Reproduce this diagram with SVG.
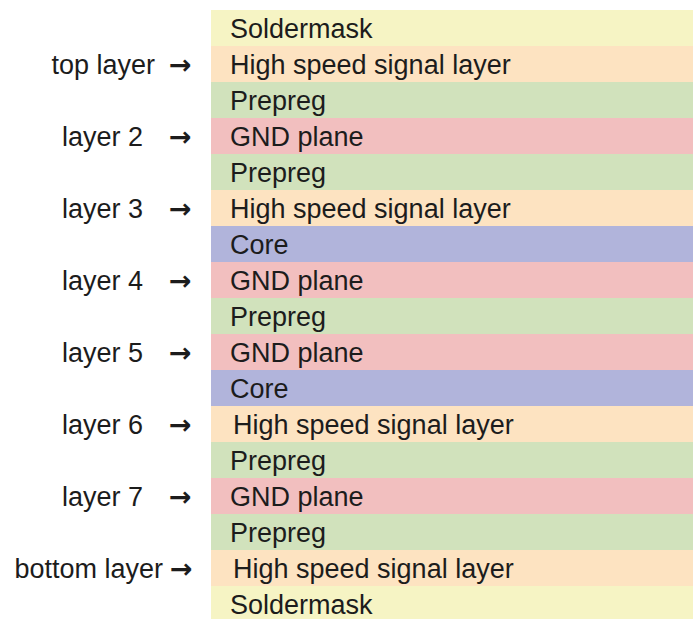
<svg xmlns="http://www.w3.org/2000/svg" width="693" height="619" viewBox="0 0 693 619">
<style>
text{font-family:"Liberation Sans",Arial,sans-serif;font-size:27px;fill:#1c1c1c}
.sm{fill:#f6f4c4}.hs{fill:#fde3c1}.pp{fill:#d1e2bc}.gnd{fill:#f2bfbf}.core{fill:#b1b4db}
.lbl{text-anchor:end}
.arr{font-family:"DejaVu Sans",sans-serif;font-size:27px;font-weight:bold}
</style>
<rect width="693" height="619" fill="#ffffff"/>
<g id="stack">
<g id="l0"><rect class="sm" x="211" y="10" width="482" height="36"/><text x="230" y="37.5">Soldermask</text></g>
<g id="l1"><rect class="hs" x="211" y="46" width="482" height="36"/><text x="230" y="73.5">High speed signal layer</text></g>
<g id="l2"><rect class="pp" x="211" y="82" width="482" height="36"/><text x="230" y="109.5">Prepreg</text></g>
<g id="l3"><rect class="gnd" x="211" y="118" width="482" height="36"/><text x="230" y="145.5">GND plane</text></g>
<g id="l4"><rect class="pp" x="211" y="154" width="482" height="36"/><text x="230" y="181.5">Prepreg</text></g>
<g id="l5"><rect class="hs" x="211" y="190" width="482" height="36"/><text x="230" y="217.5">High speed signal layer</text></g>
<g id="l6"><rect class="core" x="211" y="226" width="482" height="36"/><text x="230" y="253.5">Core</text></g>
<g id="l7"><rect class="gnd" x="211" y="262" width="482" height="36"/><text x="230" y="289.5">GND plane</text></g>
<g id="l8"><rect class="pp" x="211" y="298" width="482" height="36"/><text x="230" y="325.5">Prepreg</text></g>
<g id="l9"><rect class="gnd" x="211" y="334" width="482" height="36"/><text x="230" y="361.5">GND plane</text></g>
<g id="l10"><rect class="core" x="211" y="370" width="482" height="36"/><text x="230" y="397.5">Core</text></g>
<g id="l11"><rect class="hs" x="211" y="406" width="482" height="36"/><text x="233" y="433.5">High speed signal layer</text></g>
<g id="l12"><rect class="pp" x="211" y="442" width="482" height="36"/><text x="230" y="469.5">Prepreg</text></g>
<g id="l13"><rect class="gnd" x="211" y="478" width="482" height="36"/><text x="230" y="505.5">GND plane</text></g>
<g id="l14"><rect class="pp" x="211" y="514" width="482" height="36"/><text x="230" y="541.5">Prepreg</text></g>
<g id="l15"><rect class="hs" x="211" y="550" width="482" height="36"/><text x="233" y="577.5">High speed signal layer</text></g>
<g id="l16"><rect class="sm" x="211" y="586" width="482" height="33"/><text x="230" y="613.5">Soldermask</text></g>
</g>
<g id="labels">
<g id="lab-top"><text class="lbl" x="155" y="73.5">top layer</text><text class="arr" x="169" y="73.5">→</text></g>
<g id="lab-2"><text class="lbl" x="143" y="145.5">layer 2</text><text class="arr" x="169" y="145.5">→</text></g>
<g id="lab-3"><text class="lbl" x="143" y="217.5">layer 3</text><text class="arr" x="169" y="217.5">→</text></g>
<g id="lab-4"><text class="lbl" x="143" y="289.5">layer 4</text><text class="arr" x="169" y="289.5">→</text></g>
<g id="lab-5"><text class="lbl" x="143" y="361.5">layer 5</text><text class="arr" x="169" y="361.5">→</text></g>
<g id="lab-6"><text class="lbl" x="143" y="433.5">layer 6</text><text class="arr" x="169" y="433.5">→</text></g>
<g id="lab-7"><text class="lbl" x="143" y="505.5">layer 7</text><text class="arr" x="169" y="505.5">→</text></g>
<g id="lab-bottom"><text class="lbl" x="163" y="577.5">bottom layer</text><text class="arr" x="170" y="577.5">→</text></g>
</g>
</svg>
